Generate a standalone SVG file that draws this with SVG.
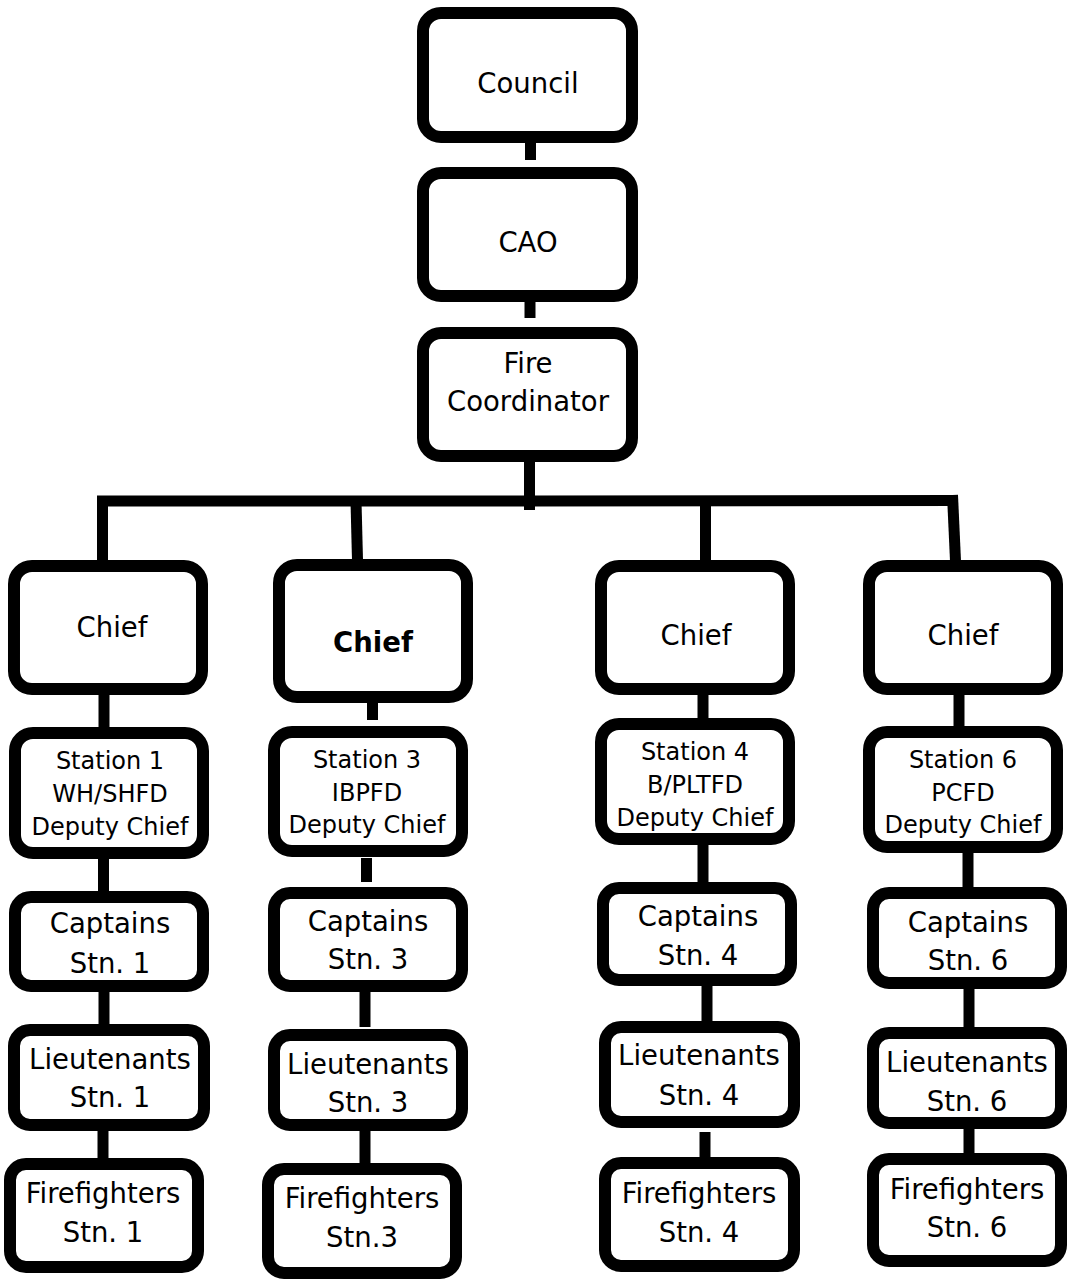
<svg xmlns="http://www.w3.org/2000/svg" width="1069" height="1280" viewBox="0 0 1069 1280">
<style>
.box{fill:#fff;stroke:#000;stroke-width:12}
.c{fill:none;stroke:#000;stroke-width:11}
text{font-family:"DejaVu Sans","Liberation Sans",sans-serif;font-size:27.5px;fill:#000;text-anchor:middle}
.s{font-size:24px}
.b{font-weight:bold}
</style>
<rect width="1069" height="1280" fill="#fff"/>
<g id="connectors">
<line class="c" x1="530.5" y1="143" x2="530.5" y2="160"/>
<line class="c" x1="530" y1="302" x2="530" y2="318"/>
<line class="c" x1="529.5" y1="462" x2="529.5" y2="510"/>
<polyline class="c" stroke-width="12" points="97,501 530,501 958,500.5"/>
<line class="c" x1="102.5" y1="496" x2="102.5" y2="561"/>
<line class="c" x1="356" y1="501" x2="357.5" y2="560"/>
<line class="c" x1="705.5" y1="501" x2="705.5" y2="561"/>
<line class="c" x1="952.5" y1="495" x2="955.5" y2="561"/>
<line class="c" x1="104" y1="695" x2="104" y2="728"/>
<line class="c" x1="372.5" y1="703" x2="372.5" y2="720"/>
<line class="c" x1="703" y1="695" x2="703" y2="719"/>
<line class="c" x1="959" y1="695" x2="959" y2="727"/>
<line class="c" x1="103.5" y1="859" x2="103.5" y2="892"/>
<line class="c" x1="366.5" y1="858" x2="366.5" y2="882"/>
<line class="c" x1="703" y1="845" x2="703" y2="883"/>
<line class="c" x1="968" y1="840" x2="968" y2="888"/>
<line class="c" x1="104" y1="992" x2="104" y2="1025"/>
<line class="c" x1="365" y1="992" x2="365" y2="1027"/>
<line class="c" x1="707" y1="986" x2="707" y2="1022"/>
<line class="c" x1="969" y1="989" x2="969" y2="1028"/>
<line class="c" x1="103" y1="1131" x2="103" y2="1159"/>
<line class="c" x1="365" y1="1131" x2="365" y2="1164"/>
<line class="c" x1="705" y1="1132" x2="705" y2="1158"/>
<line class="c" x1="969" y1="1129" x2="969" y2="1154"/>
</g>
<g id="council"><rect class="box" x="423" y="13" width="209" height="124" rx="18"/><text x="528" y="93">Council</text></g>
<g id="cao"><rect class="box" x="423" y="173" width="209" height="123" rx="18"/><text x="528" y="252">CAO</text></g>
<g id="fire-coordinator"><rect class="box" x="423" y="333" width="209" height="123" rx="18"/><text x="528" y="373">Fire</text><text x="528" y="411">Coordinator</text></g>

<g id="chief-1"><rect class="box" x="14" y="566" width="188" height="123" rx="18"/><text x="112" y="637">Chief</text></g>
<g id="chief-3"><rect class="box" x="279" y="565" width="188" height="132" rx="18"/><text class="b" x="373" y="652">Chief</text></g>
<g id="chief-4"><rect class="box" x="601" y="566" width="188" height="123" rx="18"/><text x="696" y="645">Chief</text></g>
<g id="chief-6"><rect class="box" x="869" y="566" width="188" height="123" rx="18"/><text x="963" y="645">Chief</text></g>

<g id="station-1"><rect class="box" x="15" y="733" width="188" height="120" rx="18"/><text class="s" x="110" y="769">Station 1</text><text class="s" x="110" y="802">WH/SHFD</text><text class="s" x="110" y="835">Deputy Chief</text></g>
<g id="station-3"><rect class="box" x="274" y="732" width="188" height="119" rx="18"/><text class="s" x="367" y="768">Station 3</text><text class="s" x="367" y="801">IBPFD</text><text class="s" x="367" y="833">Deputy Chief</text></g>
<g id="station-4"><rect class="box" x="601" y="724" width="188" height="115" rx="18"/><text class="s" x="695" y="760">Station 4</text><text class="s" x="695" y="793">B/PLTFD</text><text class="s" x="695" y="826">Deputy Chief</text></g>
<g id="station-6"><rect class="box" x="869" y="732" width="188" height="115" rx="18"/><text class="s" x="963" y="768">Station 6</text><text class="s" x="963" y="801">PCFD</text><text class="s" x="963" y="833">Deputy Chief</text></g>

<g id="captains-1"><rect class="box" x="15" y="897" width="188" height="89" rx="16"/><text x="110" y="933">Captains</text><text x="110" y="973">Stn. 1</text></g>
<g id="captains-3"><rect class="box" x="274" y="893" width="188" height="93" rx="16"/><text x="368" y="931">Captains</text><text x="368" y="969">Stn. 3</text></g>
<g id="captains-4"><rect class="box" x="603" y="888" width="188" height="92" rx="16"/><text x="698" y="926">Captains</text><text x="698" y="965">Stn. 4</text></g>
<g id="captains-6"><rect class="box" x="873" y="893" width="188" height="90" rx="16"/><text x="968" y="932">Captains</text><text x="968" y="970">Stn. 6</text></g>

<g id="lieutenants-1"><rect class="box" x="14" y="1030" width="190" height="95" rx="16"/><text x="110" y="1069">Lieutenants</text><text x="110" y="1107">Stn. 1</text></g>
<g id="lieutenants-3"><rect class="box" x="274" y="1035" width="188" height="90" rx="16"/><text x="368" y="1074">Lieutenants</text><text x="368" y="1112">Stn. 3</text></g>
<g id="lieutenants-4"><rect class="box" x="605" y="1027" width="189" height="95" rx="16"/><text x="699" y="1065">Lieutenants</text><text x="699" y="1105">Stn. 4</text></g>
<g id="lieutenants-6"><rect class="box" x="873" y="1033" width="188" height="90" rx="16"/><text x="967" y="1072">Lieutenants</text><text x="967" y="1111">Stn. 6</text></g>

<g id="firefighters-1"><rect class="box" x="10" y="1164" width="188" height="103" rx="16"/><text x="103" y="1203">Firefighters</text><text x="103" y="1242">Stn. 1</text></g>
<g id="firefighters-3"><rect class="box" x="268" y="1169" width="188" height="104" rx="16"/><text x="362" y="1208">Firefighters</text><text x="362" y="1247">Stn.3</text></g>
<g id="firefighters-4"><rect class="box" x="605" y="1163" width="189" height="103" rx="16"/><text x="699" y="1203">Firefighters</text><text x="699" y="1242">Stn. 4</text></g>
<g id="firefighters-6"><rect class="box" x="873" y="1159" width="188" height="102" rx="16"/><text x="967" y="1199">Firefighters</text><text x="967" y="1237">Stn. 6</text></g>
</svg>
